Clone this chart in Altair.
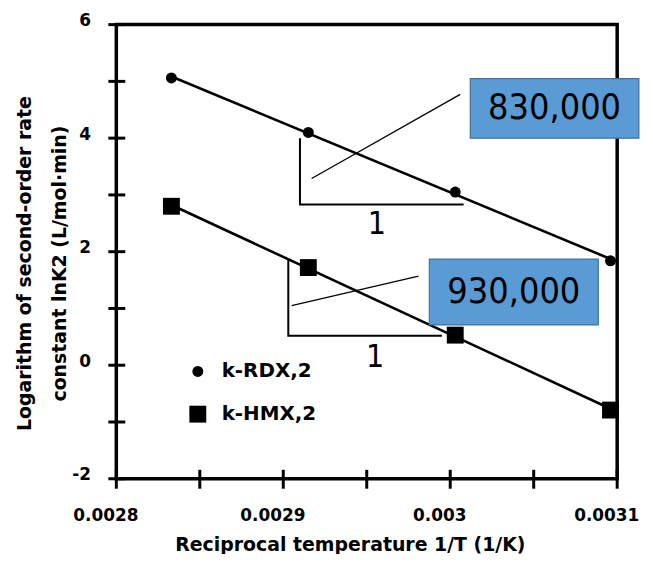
import altair as alt
import pandas as pd

# ---------------- data ----------------
inv_T = [0.002833, 0.002915, 0.003003, 0.003096]
ln_k_rdx = [5.06, 4.10, 3.05, 1.84]
ln_k_hmx = [2.80, 1.72, 0.53, -0.79]
series_names = ["k-RDX,2", "k-HMX,2"]

x_tick_values = [0.0028, 0.00285, 0.0029, 0.00295, 0.003, 0.00305, 0.0031]
x_label_values = [0.0028, 0.0029, 0.003, 0.0031]
y_tick_values = [-2, -1, 0, 1, 2, 3, 4, 5, 6]
y_label_values = [-2, 0, 2, 4, 6]

# slope triangles (data coordinates)
tri_group = ["rdx", "rdx", "rdx", "hmx", "hmx", "hmx"]
tri_x = [0.00291, 0.00291, 0.003008, 0.002903, 0.002903, 0.002995]
tri_y = [4.00, 2.83, 2.83, 1.85, 0.52, 0.52]
tri_order = [0, 1, 2, 0, 1, 2]

run_label = ["1", "1"]
run_x = [0.002956, 0.002955]
run_y = [2.49, 0.15]

lead_x = [0.002917, 0.002905]
lead_y = [3.29, 1.05]
lead_x2 = [0.003006, 0.002981]
lead_y2 = [4.77, 1.57]

box_text = ["830,000", "930,000"]
box_x = [0.003012, 0.0029875]
box_x2 = [0.003113, 0.0030887]
box_y = [5.05, 1.87]
box_y2 = [4.00, 0.71]

# ---------------- tables ----------------
pts = pd.DataFrame({
    "x": inv_T * 2,
    "y": ln_k_rdx + ln_k_hmx,
    "series": [series_names[0]] * 4 + [series_names[1]] * 4,
})
tri = pd.DataFrame({"g": tri_group, "x": tri_x, "y": tri_y, "o": tri_order})
runs = pd.DataFrame({"t": run_label, "x": run_x, "y": run_y})
leads = pd.DataFrame({"x": lead_x, "y": lead_y, "x2": lead_x2, "y2": lead_y2})
boxes = pd.DataFrame({"t": box_text, "x": box_x, "x2": box_x2, "y": box_y, "y2": box_y2})
xt = pd.DataFrame({"v": x_tick_values})
yt = pd.DataFrame({"v": y_tick_values})

W, H = 504, 457
FONT = "DejaVu Sans"
NUMFONT = "DejaVu Sans Condensed, DejaVu Sans"

xs = alt.Scale(domain=[0.0028, 0.0031], nice=False, zero=False)
ys = alt.Scale(domain=[-2, 6], nice=False, zero=False)

x_axis = alt.Axis(
    values=x_label_values, labelExpr="'' + datum.value", labelFlush=False,
    labelPadding=29, labelOffset=-11,
    title="Reciprocal temperature 1/T (1/K)", titleFontSize=19,
    titleX=235, titleY=66, titleAlign="center", titleBaseline="middle",
)
y_axis = alt.Axis(
    values=y_label_values, labelExpr="'' + datum.value", labelFlush=False,
    labelPadding=26, labelOffset=-4,
    title=["Logarithm of second-order rate", "constant lnK2 (L/mol·min)"],
    titleFontSize=19, titleLineHeight=35, titleX=-92, titleY=240,
    titleAlign="center", titleBaseline="middle", titleAngle=270,
)

legend = alt.Legend(
    title=None, orient="none", legendX=72, legendY=339, padding=0,
    labelFont=FONT, labelFontWeight="bold", labelFontSize=20, labelColor="black",
    rowPadding=21, labelOffset=14, symbolFillColor="black",
    symbolStrokeColor="black", symbolOpacity=1,
)

X = lambda f: alt.X(f, scale=xs, axis=x_axis)
Y = lambda f: alt.Y(f, scale=ys, axis=y_axis)

fit = alt.Chart(pts).transform_regression(
    "x", "y", groupby=["series"]
).mark_line(color="black", strokeWidth=2.6).encode(
    x=X("x:Q"), y=Y("y:Q"), detail="series:N",
)

points = alt.Chart(pts).mark_point(filled=True, color="black", opacity=1).encode(
    x=X("x:Q"), y=Y("y:Q"),
    shape=alt.Shape("series:N", scale=alt.Scale(domain=series_names, range=["circle", "square"]), legend=legend),
    size=alt.Size("series:N", scale=alt.Scale(domain=series_names, range=[121, 289]), legend=legend),
)

xticks = alt.Chart(xt).mark_rule(color="black", strokeWidth=3).encode(
    x=X("v:Q"), y=alt.value(H - 9), y2=alt.value(H + 10)
)
yticks = alt.Chart(yt).mark_rule(color="black", strokeWidth=3).encode(
    y=Y("v:Q"), x=alt.value(-8), x2=alt.value(9)
)

triangles = alt.Chart(tri).mark_line(color="black", strokeWidth=2).encode(
    x=X("x:Q"), y=Y("y:Q"), detail="g:N", order="o:Q"
)
leader = alt.Chart(leads).mark_rule(color="black", strokeWidth=1.3).encode(
    x=X("x:Q"), y=Y("y:Q"), x2="x2:Q", y2="y2:Q"
)
run_text = alt.Chart(runs).mark_text(font=NUMFONT, fontSize=32, color="black").encode(
    x=X("x:Q"), y=Y("y:Q"), text="t:N"
)
box_rect = alt.Chart(boxes).mark_rect(fill="#5B9BD5", stroke="#41719C", strokeWidth=1.2).encode(
    x=X("x:Q"), x2="x2:Q", y=Y("y:Q"), y2="y2:Q"
)
box_label = alt.Chart(boxes).transform_calculate(
    cx="(datum.x + datum.x2) / 2", cy="(datum.y + datum.y2) / 2"
).mark_text(font=NUMFONT, fontSize=36, color="black", baseline="middle").encode(
    x=X("cx:Q"), y=Y("cy:Q"), text="t:N"
)

chart = alt.layer(
    fit, xticks, yticks, triangles, leader, run_text, points, box_rect, box_label
).properties(
    width=W, height=H, background="white",
    autosize=alt.AutoSizeParams(type="none"),
    padding={"left": 109, "top": 15, "right": 28, "bottom": 74},
).configure_view(
    stroke="black", strokeWidth=3.5, fill="white"
).configure_axis(
    ticks=False, domain=False, grid=False,
    labelFont=FONT, labelFontWeight="bold", labelFontSize=17, labelColor="black",
    titleFont=FONT, titleFontWeight="bold", titleColor="black",
)

chart.save("out.html", embed_options={"renderer": "svg", "actions": False})
